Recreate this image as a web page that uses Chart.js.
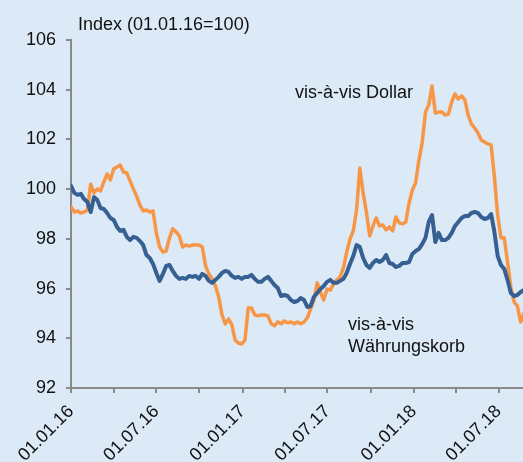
<!DOCTYPE html>
<html lang="de">
<head>
  <meta charset="UTF-8" />
  <title>Index (01.01.16=100)</title>
  <script src="https://cdn.jsdelivr.net/npm/chart.js"></script>
  <style>
    html, body {
      margin: 0;
      padding: 0;
      background: #dce9f7;
    }
    #chart {
      display: block;
    }
  </style>
</head>
<body>
  <canvas id="chart" width="523" height="462"></canvas>

  <script>
    // weekly observations, starting 01.01.16 (x in days)
    const weekStepDays = 7;
    const tickDays = [0, 182, 366, 547, 731, 912];
    const tickLabels = ['01.01.16', '01.07.16', '01.01.17', '01.07.17', '01.01.18', '01.07.18'];
    const minorTickDays = [91, 274, 456, 639, 821];
    const yTicks = [92, 94, 96, 98, 100, 102, 104, 106];

    // vis-à-vis Dollar
    const dollarSeries = [
      99.3, 99.08, 99.12, 99.04, 99.08, 99.16, 100.2, 99.85, 100.0, 99.93,
      100.29, 100.61, 100.37, 100.81, 100.89, 100.97, 100.69, 100.65, 100.33, 100.01,
      99.72, 99.36, 99.12, 99.16, 99.08, 99.12, 98.24, 97.67, 97.47, 97.51,
      98.04, 98.40, 98.28, 98.12, 97.67, 97.75, 97.71, 97.75, 97.75, 97.75,
      97.67, 96.91, 96.59, 96.39, 96.10, 95.66, 94.94, 94.58, 94.78, 94.54,
      93.93, 93.81, 93.77, 93.93, 95.22, 95.22, 94.94, 94.90, 94.94, 94.94,
      94.90, 94.58, 94.50, 94.66, 94.58, 94.70, 94.62, 94.66, 94.58, 94.66,
      94.58, 94.66, 94.82, 95.18, 95.54, 96.23, 95.86, 95.54, 95.98, 95.94,
      96.19, 96.35, 96.47, 96.83, 97.47, 97.99, 98.32, 99.16, 100.85, 99.85,
      99.08, 98.12, 98.52, 98.84, 98.52, 98.56, 98.36, 98.48, 98.32, 98.88,
      98.64, 98.60, 98.68, 99.44, 99.97, 100.25, 101.17, 101.86, 103.10, 103.39,
      104.15, 103.06, 103.10, 103.10, 102.98, 103.02, 103.51, 103.83, 103.63, 103.75,
      103.59, 102.98, 102.62, 102.46, 102.26, 101.98, 101.90, 101.82, 101.78, 100.49,
      98.96, 98.04, 98.04, 97.07, 96.06, 95.46, 95.30, 94.66, 95.0
    ];

    // vis-à-vis Währungskorb
    const basketSeries = [
      100.13, 99.85, 99.77, 99.81, 99.60, 99.48, 99.08, 99.68, 99.56, 99.24,
      99.20, 99.04, 98.84, 98.76, 98.48, 98.32, 98.36, 98.08, 97.95, 98.08,
      98.04, 97.91, 97.75, 97.35, 97.23, 96.99, 96.63, 96.31, 96.59, 96.91,
      96.95, 96.71, 96.51, 96.39, 96.43, 96.39, 96.51, 96.47, 96.51, 96.39,
      96.59, 96.51, 96.31, 96.23, 96.35, 96.47, 96.63, 96.71, 96.67, 96.51,
      96.43, 96.47, 96.39, 96.47, 96.47, 96.55, 96.39, 96.27, 96.27, 96.39,
      96.47, 96.31, 96.14, 96.02, 95.70, 95.74, 95.70, 95.54, 95.46, 95.50,
      95.62, 95.54, 95.26, 95.30, 95.66, 95.82, 95.98, 96.10, 96.27, 96.35,
      96.23, 96.23, 96.31, 96.39, 96.63, 96.99, 97.31, 97.75, 97.67, 97.23,
      96.95, 96.83, 97.03, 97.15, 97.07, 97.15, 97.35, 97.03, 96.99, 96.87,
      96.91, 97.03, 97.03, 97.07, 97.39, 97.51, 97.59, 97.79, 98.04, 98.68,
      98.96, 97.87, 98.24, 97.95, 97.95, 98.04, 98.24, 98.52, 98.68, 98.84,
      98.92, 98.92, 99.04, 99.08, 99.04, 98.88, 98.80, 98.84, 99.00, 98.28,
      97.31, 96.95, 96.79, 96.35, 95.82, 95.70, 95.74, 95.86, 95.94
    ];

    const axisGrey = '#8a8a8a';
    const textColor = '#111111';
    const font = { family: '"Liberation Sans", Arial, sans-serif', size: 18 };

    const toPoints = (arr) => arr.map((v, i) => ({ x: i * weekStepDays, y: v }));

    // free text: axis unit and series names
    const textLabels = {
      id: 'textLabels',
      afterDatasetsDraw(chart) {
        const ctx = chart.ctx;
        ctx.save();
        ctx.font = '18px "Liberation Sans", Arial, sans-serif';
        ctx.fillStyle = textColor;
        ctx.textAlign = 'left';
        ctx.textBaseline = 'alphabetic';
        ctx.fillText('Index (01.01.16=100)', 78, 30);
        ctx.fillText('vis-à-vis Dollar', 295, 98);
        ctx.fillText('vis-à-vis', 348, 330);
        ctx.fillText('Währungskorb', 348, 352);
        ctx.restore();
      }
    };

    new Chart(document.getElementById('chart'), {
      type: 'line',
      data: {
        datasets: [
          {
            label: 'vis-à-vis Währungskorb',
            data: toPoints(basketSeries),
            borderColor: '#366092',
            borderWidth: 4
          },
          {
            label: 'vis-à-vis Dollar',
            data: toPoints(dollarSeries),
            borderColor: '#f79646',
            borderWidth: 3.5
          }
        ]
      },
      options: {
        responsive: false,
        animation: false,
        layout: { padding: { top: 40, right: 0, bottom: 0, left: 0 } },
        elements: {
          point: { radius: 0 },
          line: { tension: 0, borderJoinStyle: 'round', borderCapStyle: 'round' }
        },
        plugins: {
          legend: { display: false },
          tooltip: { enabled: false },
          title: { display: false }
        },
        scales: {
          x: {
            type: 'linear',
            min: 0,
            max: 964,
            afterBuildTicks(scale) {
              scale.ticks = tickDays.concat(minorTickDays)
                .sort((a, b) => a - b)
                .map(v => ({ value: v }));
            },
            afterFit(scale) {
              scale.height = 74;
              scale.paddingLeft = 0;
              scale.paddingRight = 0;
            },
            ticks: {
              autoSkip: false,
              minRotation: 45,
              maxRotation: 45,
              padding: 8,
              color: textColor,
              font: font,
              callback(value) {
                const i = tickDays.indexOf(value);
                return i >= 0 ? tickLabels[i] : '';
              }
            },
            grid: {
              drawOnChartArea: false,
              drawTicks: true,
              tickLength: 5,
              color: axisGrey,
              lineWidth: 2
            },
            border: { color: axisGrey, width: 2 }
          },
          y: {
            min: 92,
            max: 106,
            afterBuildTicks(scale) {
              scale.ticks = yTicks.map(v => ({ value: v }));
            },
            afterFit(scale) {
              scale.width = 71;
            },
            ticks: {
              padding: 10,
              color: textColor,
              font: font
            },
            grid: {
              drawOnChartArea: false,
              drawTicks: true,
              tickLength: 5,
              color: axisGrey,
              lineWidth: 2
            },
            border: { color: axisGrey, width: 2 }
          }
        }
      },
      plugins: [textLabels]
    });
  </script>
</body>
</html>
